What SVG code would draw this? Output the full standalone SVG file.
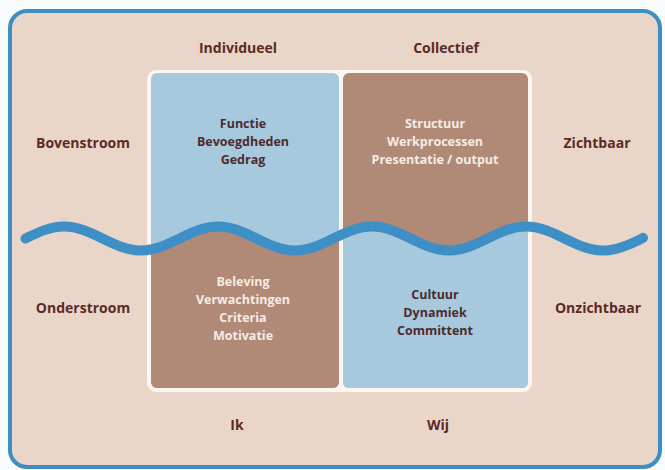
<svg xmlns="http://www.w3.org/2000/svg" width="665" height="470" viewBox="0 0 665 470">
<defs>
<style>
.lbl{font-family:"Open Sans","DejaVu Sans",sans-serif;font-weight:bold;font-size:14px;fill:#5b2a26;text-anchor:middle}
.q{font-family:"Open Sans","DejaVu Sans",sans-serif;font-weight:bold;font-size:12.5px;text-anchor:middle}
.dark{fill:#4e2a2e}
.light{fill:#f6ece4}
.blue{fill:#a7c9de}
.brown{fill:#b08a77}
</style>
<clipPath id="colL"><rect x="151" y="73" width="188" height="315" rx="6"/></clipPath>
<clipPath id="colR"><rect x="343" y="73" width="185" height="315" rx="6"/></clipPath>
<path id="below" d="M25.5,238.5 C38.3,232.2 50.5,226.5 64,226.5 C92,226.5 113,250.5 141,250.5 S190,226.5 218,226.5 S267,250.5 295,250.5 S344,226.5 372,226.5 S421,250.5 449,250.5 S498,226.5 526,226.5 S575,250.5 603,250.5 C617,250.5 630,244.7 643,237.8 L643,400 L25.5,400 Z"/>
</defs>
<rect width="665" height="470" fill="#f7fbfb"/>
<rect id="frame" x="10" y="11" width="650" height="456" rx="17" fill="#ead6c8" stroke="#3f8dc1" stroke-width="4"/>
<rect x="147" y="70" width="385" height="322" rx="9" fill="#fbf6f1"/>
<g id="q-individueel-boven">
<rect x="151" y="73" width="188" height="315" rx="6" class="blue"/>
</g>
<g id="q-collectief-boven">
<rect x="343" y="73" width="185" height="315" rx="6" class="brown"/>
</g>
<g id="q-ik-onder">
<use href="#below" class="brown" clip-path="url(#colL)"/>
</g>
<g id="q-wij-onder">
<use href="#below" class="blue" clip-path="url(#colR)"/>
</g>
<g id="connectors">
<path id="wave" d="M25.5,238.5 C38.3,232.2 50.5,226.5 64,226.5 C92,226.5 113,250.5 141,250.5 S190,226.5 218,226.5 S267,250.5 295,250.5 S344,226.5 372,226.5 S421,250.5 449,250.5 S498,226.5 526,226.5 S575,250.5 603,250.5 C617,250.5 630,244.7 643,237.8" fill="none" stroke="#3d8fc6" stroke-width="10" stroke-linecap="round"/>
</g>
<g id="text-boven-links">
<text class="q dark" x="243" y="128">Functie</text>
<text class="q dark" x="243" y="146">Bevoegdheden</text>
<text class="q dark" x="243" y="164">Gedrag</text>
</g>
<g id="text-boven-rechts">
<text class="q light" x="435" y="128">Structuur</text>
<text class="q light" x="435" y="146">Werkprocessen</text>
<text class="q light" x="435" y="164">Presentatie / output</text>
</g>
<g id="text-onder-links">
<text class="q light" x="243" y="286">Beleving</text>
<text class="q light" x="243" y="304">Verwachtingen</text>
<text class="q light" x="243" y="322">Criteria</text>
<text class="q light" x="243" y="340">Motivatie</text>
</g>
<g id="text-onder-rechts">
<text class="q dark" x="435" y="299">Cultuur</text>
<text class="q dark" x="435" y="317">Dynamiek</text>
<text class="q dark" x="435" y="335">Committent</text>
</g>
<g id="labels">
<text class="lbl" x="238" y="53">Individueel</text>
<text class="lbl" x="446" y="53">Collectief</text>
<text class="lbl" x="83" y="148">Bovenstroom</text>
<text class="lbl" x="83" y="313">Onderstroom</text>
<text class="lbl" x="597" y="148">Zichtbaar</text>
<text class="lbl" x="598" y="313">Onzichtbaar</text>
<text class="lbl" x="237" y="430">Ik</text>
<text class="lbl" x="438" y="430">Wij</text>
</g>
</svg>
